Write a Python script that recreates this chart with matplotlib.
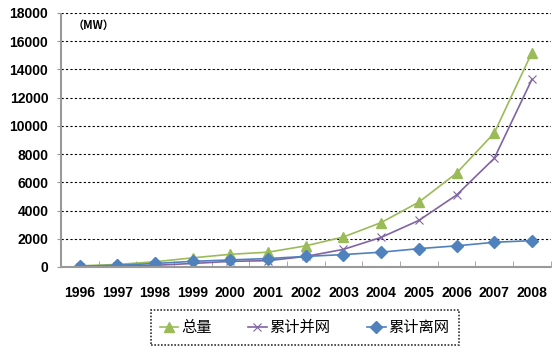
import numpy as np
import matplotlib
matplotlib.use("Agg")
import matplotlib.pyplot as plt

years = ['1996', '1997', '1998', '1999', '2000', '2001', '2002',
         '2003', '2004', '2005', '2006', '2007', '2008']
total = [80, 180, 370, 650, 900, 1050, 1500, 2130, 3150, 4600, 6650, 9500, 15200]
grid = [20, 60, 120, 250, 400, 450, 750, 1250, 2100, 3300, 5100, 7700, 13300]
offgrid = [60, 120, 250, 400, 500, 600, 750, 880, 1050, 1300, 1500, 1750, 1870]

cjk = ['Noto Sans CJK SC', 'DejaVu Sans']

fig = plt.figure(figsize=(5.53, 3.61), dpi=100)
ax = fig.add_axes([0.110, 0.2604, 0.886, 0.7036])

x = np.arange(len(years))
ax.plot(x, total, color='#9BBB59', lw=1.2, marker='^', ms=7, label='总量')
ax.plot(x, grid, color='#8064A2', lw=1.2, marker='x', ms=6, mew=0.8, label='累计并网')
ax.plot(x, offgrid, color='#4F81BD', lw=1.2, marker='D', ms=6, label='累计离网')

ax.set_xlim(-0.5, len(years) - 0.5)
ax.set_ylim(0, 18000)
ax.set_yticks(np.arange(0, 18001, 2000))
ax.set_xticks(x)
ax.set_xticklabels(years)
ax.set_xticks(np.arange(-0.5, len(years), 1), minor=True)
ax.tick_params(axis='x', which='major', length=0, pad=14)
ax.tick_params(axis='x', which='minor', length=4, color='#999999', direction='in')
ax.tick_params(axis='y', length=3, color='#999999', pad=6)
for lab in ax.get_xticklabels() + ax.get_yticklabels():
    lab.set_fontfamily('Liberation Sans')
    lab.set_fontweight('bold')
    lab.set_fontsize(10)

ax.yaxis.grid(True, color='black', ls=(0, (2, 2)), lw=0.8)
ax.set_axisbelow(True)
for s in ['top', 'right']:
    ax.spines[s].set_visible(False)
for s in ['left', 'bottom']:
    ax.spines[s].set_color('#999999')
    ax.spines[s].set_linestyle((0, (1, 1)))
    ax.spines[s].set_linewidth(1.5)

ax.text(0.025, 0.975, '（MW）', transform=ax.transAxes, fontsize=8,
        fontweight='bold', family=cjk, va='top')

leg = fig.legend(loc='center', bbox_to_anchor=(0.551, 0.092), ncol=3,
                 prop={'family': cjk, 'size': 11}, frameon=True, fancybox=False,
                 handlelength=1.2, handletextpad=0.2, columnspacing=2.4,
                 borderpad=0.6)
fr = leg.get_frame()
fr.set_edgecolor('black')
fr.set_linestyle((0, (1, 1)))
fr.set_linewidth(1.2)

fig.savefig('out.png', dpi=100)
